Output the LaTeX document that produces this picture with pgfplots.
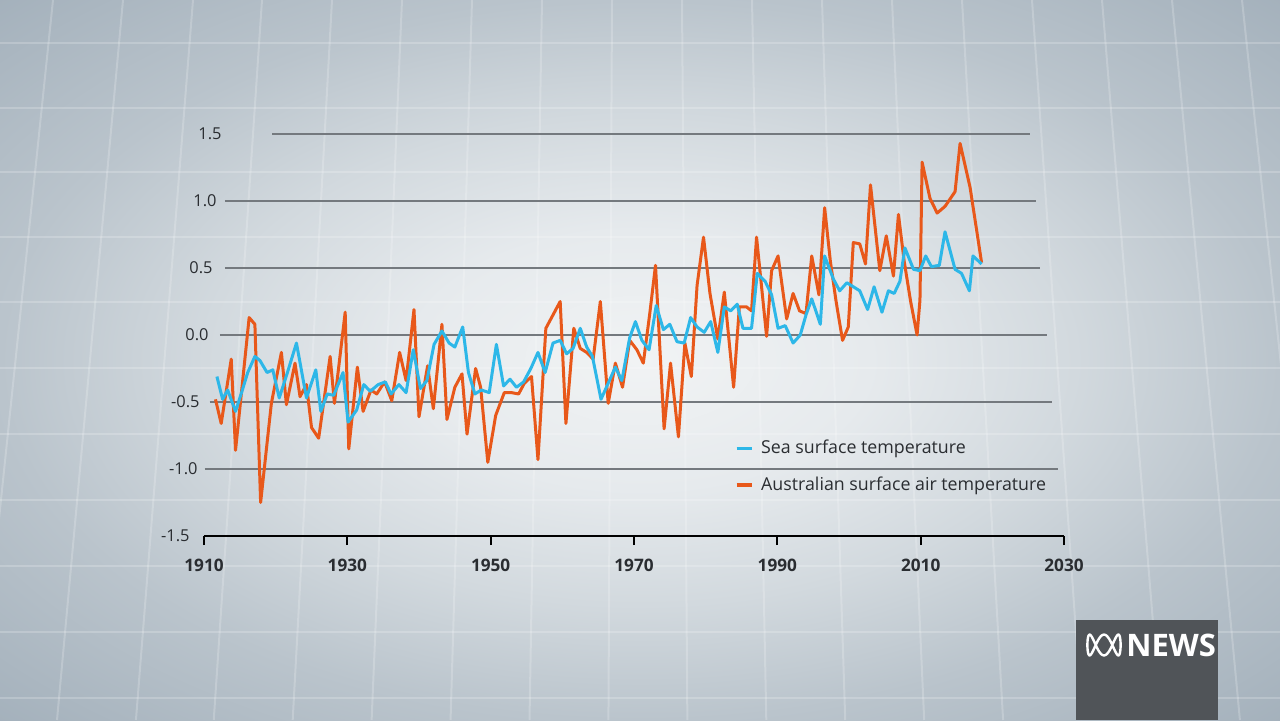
\documentclass[border=0pt]{standalone}
\usepackage{fontspec}
\setmainfont{Open Sans}
\usepackage{pgfplots}
\pgfplotsset{compat=1.18}
\definecolor{sst}{HTML}{2DB7E8}
\definecolor{air}{HTML}{E8581A}
\definecolor{txt}{HTML}{2A2D31}
\definecolor{gridc}{HTML}{74797E}
\definecolor{logo}{HTML}{505458}
\definecolor{bgA}{HTML}{F1F3F4}
\definecolor{bgB}{HTML}{E6EAED}
\definecolor{bgC}{HTML}{D2D9DE}
\definecolor{bgD}{HTML}{BAC4CC}
\definecolor{bgE}{HTML}{A3B0BB}
\pgfdeclareradialshading{bgshade}{\pgfpoint{0bp}{0bp}}{color(0bp)=(bgA); color(9bp)=(bgB); color(17bp)=(bgC); color(25bp)=(bgD); color(36bp)=(bgE); color(50bp)=(bgE)}

\pgfplotstableread{
year value
1911.6 -0.48
1912.4 -0.66
1913.8 -0.18
1914.4 -0.86
1916.3 0.13
1917.1 0.08
1917.9 -1.25
1919.4 -0.51
1920.8 -0.13
1921.5 -0.52
1922.7 -0.21
1923.4 -0.46
1924.3 -0.37
1925.0 -0.69
1926.0 -0.77
1927.6 -0.16
1928.2 -0.51
1929.7 0.17
1930.2 -0.85
1931.4 -0.24
1932.2 -0.57
1933.3 -0.41
1934.1 -0.44
1935.2 -0.35
1936.2 -0.49
1937.3 -0.13
1938.2 -0.34
1939.3 0.19
1940.0 -0.61
1941.2 -0.23
1942.0 -0.55
1943.2 0.08
1943.9 -0.63
1945.0 -0.39
1946.0 -0.29
1946.7 -0.74
1947.9 -0.25
1948.6 -0.39
1949.6 -0.95
1950.7 -0.60
1951.9 -0.43
1952.9 -0.43
1953.9 -0.44
1954.7 -0.36
1955.7 -0.31
1956.6 -0.93
1957.7 0.05
1958.7 0.15
1959.7 0.25
1960.5 -0.66
1961.6 0.05
1962.5 -0.10
1963.4 -0.13
1964.3 -0.18
1965.3 0.25
1966.4 -0.51
1967.4 -0.21
1968.4 -0.39
1969.4 -0.04
1970.4 -0.11
1971.3 -0.21
1972.2 0.16
1973.0 0.52
1974.2 -0.70
1975.1 -0.21
1976.2 -0.76
1977.1 -0.06
1978.0 -0.31
1978.8 0.37
1979.7 0.73
1980.6 0.31
1981.7 -0.03
1982.6 0.32
1983.9 -0.39
1984.7 0.21
1985.7 0.21
1986.4 0.18
1987.1 0.73
1988.5 -0.01
1989.2 0.48
1990.1 0.59
1991.3 0.12
1992.2 0.31
1993.1 0.18
1994.0 0.16
1994.8 0.59
1995.8 0.30
1996.6 0.95
1997.4 0.55
1998.2 0.25
1999.1 -0.04
1999.9 0.06
2000.6 0.69
2001.5 0.68
2002.3 0.53
2003.0 1.12
2004.3 0.48
2005.2 0.74
2006.2 0.44
2006.9 0.90
2007.7 0.55
2008.6 0.25
2009.5 0.00
2009.9 0.26
2010.2 1.29
2011.3 1.02
2012.3 0.91
2013.4 0.96
2014.8 1.07
2015.5 1.43
2016.9 1.10
2018.5 0.54
}\airdata

\pgfplotstableread{
year value
1911.8 -0.31
1912.6 -0.48
1913.3 -0.41
1914.4 -0.57
1915.3 -0.42
1916.1 -0.28
1917.1 -0.16
1917.8 -0.19
1918.8 -0.28
1919.6 -0.26
1920.5 -0.47
1921.7 -0.27
1922.9 -0.06
1924.3 -0.47
1925.6 -0.26
1926.3 -0.57
1927.2 -0.44
1928.1 -0.45
1929.4 -0.28
1930.1 -0.65
1931.3 -0.56
1932.3 -0.37
1933.2 -0.42
1934.3 -0.37
1935.3 -0.35
1936.1 -0.44
1937.2 -0.37
1938.2 -0.43
1939.2 -0.11
1940.2 -0.40
1941.1 -0.34
1942.1 -0.07
1943.2 0.03
1944.2 -0.06
1945.0 -0.09
1946.1 0.06
1946.9 -0.28
1947.8 -0.44
1948.7 -0.41
1949.8 -0.43
1950.8 -0.07
1951.8 -0.38
1952.7 -0.33
1953.6 -0.39
1954.6 -0.35
1955.6 -0.25
1956.6 -0.13
1957.6 -0.28
1958.7 -0.06
1959.7 -0.04
1960.6 -0.14
1961.5 -0.10
1962.5 0.05
1963.4 -0.09
1964.2 -0.16
1965.4 -0.48
1966.4 -0.36
1967.4 -0.24
1968.3 -0.34
1969.4 -0.02
1970.2 0.10
1971.1 -0.04
1972.1 -0.11
1973.1 0.22
1974.1 0.04
1975.0 0.08
1976.0 -0.05
1977.0 -0.06
1977.9 0.13
1978.8 0.06
1979.8 0.02
1980.7 0.10
1981.7 -0.13
1982.6 0.21
1983.5 0.18
1984.4 0.23
1985.2 0.05
1986.4 0.05
1987.2 0.46
1988.3 0.40
1989.2 0.30
1990.1 0.05
1991.1 0.07
1992.2 -0.06
1993.2 0.00
1994.0 0.15
1994.8 0.27
1996.0 0.08
1996.6 0.59
1997.8 0.42
1998.7 0.33
1999.7 0.39
2000.6 0.36
2001.5 0.33
2002.6 0.19
2003.5 0.36
2004.6 0.17
2005.5 0.33
2006.3 0.31
2007.1 0.40
2007.8 0.65
2009.0 0.49
2009.9 0.48
2010.7 0.59
2011.5 0.51
2012.6 0.52
2013.4 0.77
2014.8 0.49
2015.7 0.46
2016.8 0.33
2017.3 0.59
2018.5 0.53
}\sstdata

\begin{document}
\begin{tikzpicture}
% background
\shade[shading=bgshade] (0,0) rectangle (640pt,360pt);
\begin{scope}
\clip (0,0) rectangle (640pt,360pt);
\begin{scope}[x=0.5pt,y=-0.5pt,shift={(0pt,360pt)}]
\foreach \yy in {43,108,172,237,302,368,434,500,566,632,698}
  \draw[white, opacity=0.2, line width=1pt] (0,\yy) -- (1280,\yy);
\foreach \xx in {53,123,193,262,332,402,472,542,612,682,752,822,892,962,1032,1102,1172,1242}
  \draw[white, opacity=0.2, line width=1pt] (\xx,0) -- ({\xx+(\xx-640)/5640*720},720);
\end{scope}
\end{scope}
% logo
\fill[logo] (538pt,0pt) rectangle (609pt,50pt);
\node[white, font=\bfseries\fontsize{15.5}{16}\selectfont, anchor=west, inner sep=0pt] at (563pt,37.5pt) {NEWS};
\draw[white, line width=1.2pt] plot[domain=0:360, samples=121, smooth] ({(552+8.3*sin(\x))*1pt}, {(37.5+5.2*cos(3*\x))*1pt});

\begin{axis}[
  at={(102pt,92pt)}, anchor=south west,
  scale only axis, width=430pt, height=201pt,
  xmin=1910, xmax=2030, ymin=-1.5, ymax=1.5,
  clip=false,
  axis x line=bottom, axis y line=none,
  x axis line style={-, line width=1pt, black},
  xtick={1910,1930,1950,1970,1990,2010,2030},
  ytick=\empty,
  tick align=outside, major tick length=4.5pt,
  tick style={black, line width=1pt},
  /pgf/number format/assume math mode=true,
  xticklabel style={font=\bfseries\fontsize{8.6}{10}\selectfont, text=txt, yshift=-3.5pt, /pgf/number format/1000 sep={}},
  legend style={at={(axis cs:1983.2,-0.982)}, anchor=west, draw=none, fill=none,
    font=\fontsize{8.9}{10}\selectfont, text=txt, row sep=6pt,
    /tikz/every odd column/.append style={column sep=2pt}},
  legend image code/.code={\draw[#1, line width=1.6pt] (0pt,0pt) -- (7.5pt,0pt);},
  legend cell align=left,
  reverse legend,
]
% gridlines
\draw[gridc, line width=0.6pt] (axis cs:1919.5,1.5) -- (axis cs:2025.3,1.5);
\draw[gridc, line width=0.6pt] (axis cs:1912.9,1.0) -- (axis cs:2026.1,1.0);
\draw[gridc, line width=0.6pt] (axis cs:1912.9,0.5) -- (axis cs:2026.7,0.5);
\draw[gridc, line width=0.6pt] (axis cs:1912.2,0.0) -- (axis cs:2027.6,0.0);
\draw[gridc, line width=0.6pt] (axis cs:1910.8,-0.5) -- (axis cs:2028.3,-0.5);
\draw[gridc, line width=0.6pt] (axis cs:1910.1,-1.0) -- (axis cs:2029.2,-1.0);
% y labels
\foreach \v/\s/\lab in {1.5/9/1.5, 1.0/6.5/1.0, 0.5/4.5/0.5, 0.0/2.5/0.0, -0.5/-2/-0.5, -1.0/-3/-1.0, -1.5/-7/-1.5}{
  \edef\temp{\noexpand\node[anchor=east, inner sep=0pt, font=\noexpand\fontsize{8.2}{10}\noexpand\selectfont, text=txt, xshift=\s pt] at (axis cs:1910,\v) {\lab};}
  \temp
}
\addplot[air, line width=1.5pt, line join=round] table[x=year, y=value] {\airdata};
\addlegendentry{Australian surface air temperature}
\addplot[sst, line width=1.5pt, line join=round] table[x=year, y=value] {\sstdata};
\addlegendentry{Sea surface temperature}
\end{axis}
\end{tikzpicture}
\end{document}
